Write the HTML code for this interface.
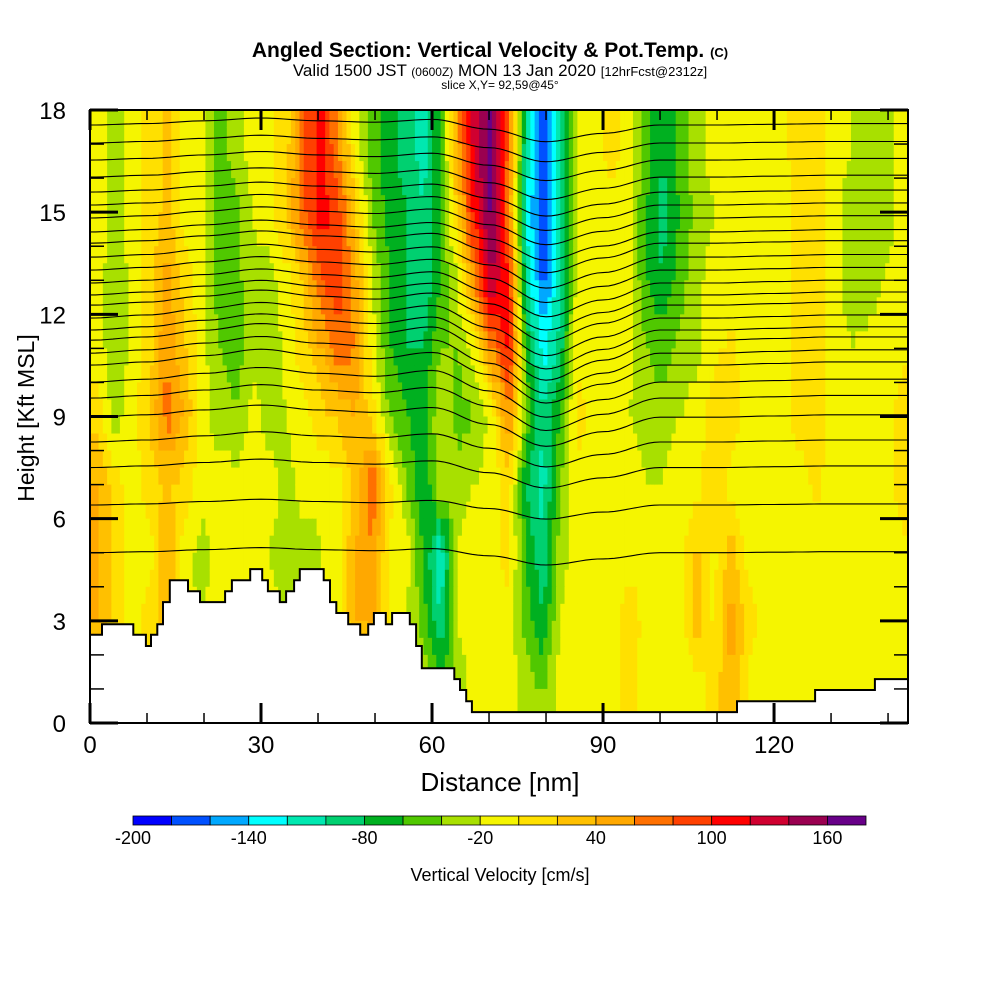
<!DOCTYPE html>
<html><head><meta charset="utf-8">
<style>
html,body{margin:0;padding:0;background:#fff;}
svg{display:block;font-family:"Liberation Sans",sans-serif;}
</style></head>
<body>
<svg id="chart" width="1000" height="1000" viewBox="0 0 1000 1000">
  <text x="490" y="57" text-anchor="middle" font-size="21" font-weight="bold">Angled Section: Vertical Velocity &amp; Pot.Temp. <tspan font-size="13">(C)</tspan></text>
  <text x="500" y="76" text-anchor="middle" font-size="17">Valid 1500 JST <tspan font-size="12">(0600Z)</tspan> MON 13 Jan 2020 <tspan font-size="13">[12hrFcst@2312z]</tspan></text>
  <text x="500" y="89" text-anchor="middle" font-size="12">slice X,Y= 92,59@45°</text>
  <defs><clipPath id="plotclip"><rect x="90" y="110" width="818" height="613"/></clipPath></defs>
  <g id="cells" clip-path="url(#plotclip)"></g>
  <g id="contours" clip-path="url(#plotclip)"></g>
  <g id="terrain"></g>
  <rect x="90" y="110" width="818" height="613" fill="none" stroke="#000" stroke-width="2"/>
  <g id="axes"></g>
  <text x="500" y="791" text-anchor="middle" font-size="26">Distance [nm]</text>
  <text transform="translate(34,418) rotate(-90)" text-anchor="middle" font-size="23">Height [Kft MSL]</text>
  <g id="colorbar"></g>
  <text x="500" y="881" text-anchor="middle" font-size="18">Vertical Velocity [cm/s]</text>
</svg>
<script>
const NS="http://www.w3.org/2000/svg";
// Data: vertical velocity (cm/s), columns every 3 nm, rows top (16-18 kft) to bottom (0-2 kft)
const colStepNm=3;
const rowStepKft=2;
const w0=[-10,-30,-10,10,25,-10,-10,-50,-30,-10,-5,10,80,110,60,-10,-50,-70,-90,-110,-60,50,130,170,70,-100,-170,-100,-10,-10,10,-10,-50,-80,-50,-30,-10,-10,-10,-10,-5,10,10,-10,-20,-30,-30,-10];
const w1=[-10,-30,-10,10,25,-10,-10,-50,-45,-20,-5,25,80,110,90,25,-40,-70,-80,-100,-60,25,110,170,60,-120,-180,-110,-10,-5,-10,-10,-60,-90,-60,-30,-20,-10,-10,-10,-10,10,15,-10,-30,-30,-30,-10];
const w2=[-10,-40,-10,10,50,10,-10,-50,-50,-25,-30,-10,25,80,100,50,-20,-60,-80,-100,-60,-20,60,140,100,-100,-170,-100,-10,-10,-10,-10,-60,-80,-50,-25,-10,-10,-5,-20,-10,10,10,-10,-30,-30,-20,-10];
const w3=[-10,-40,-10,10,60,25,-10,-40,-50,-30,-40,-10,10,40,70,60,-10,-60,-80,-80,-40,-40,-10,60,110,-60,-130,-90,-5,-10,-10,-10,-40,-50,-30,-25,-5,5,-10,-20,-10,10,10,-10,-20,-15,-10,-5];
const w4=[10,-30,-10,25,70,40,-10,-30,-40,-10,-30,-20,-10,10,25,40,10,-40,-60,-70,-20,-50,-40,-10,60,-40,-100,-60,10,-10,-10,-20,-30,-30,-20,-10,10,10,-10,-20,-10,10,10,-10,-10,-10,-10,10];
const w5=[40,10,-10,10,25,10,-10,-10,-10,-20,-10,-30,-5,-10,-10,25,80,10,-40,-80,-20,-30,-20,-10,10,-80,-110,-40,-5,-10,-10,-10,-20,-20,-10,-10,25,-10,-10,-10,-10,-10,5,-10,-10,-10,-10,10];
const w6=[40,10,-10,-10,40,-10,-30,-10,-5,-5,-20,-30,-40,-20,-10,40,60,-5,-10,-60,-120,-20,-10,-5,5,-60,-100,-30,-5,-10,-10,-5,-5,-10,-10,25,-5,30,-10,-10,-10,-5,-10,-10,-10,-10,-5,-5];
const w7=[40,10,-10,10,40,-10,-20,-10,-5,-5,-10,-30,-20,-10,-10,40,50,-5,-20,-50,-100,-20,-10,-5,-5,-50,-80,-20,-10,-10,-10,10,-5,-10,-10,30,-5,50,10,-10,-10,-10,-10,-10,-10,-5,-10,-10];
const w8=[-10,-10,-10,-10,-10,-10,-10,-10,-10,-10,-10,-10,-10,-10,-10,-10,-10,-10,-10,-10,-60,-30,-10,-10,-10,-30,-40,-10,-10,-10,-10,10,-10,-10,-10,-10,10,40,-5,-10,-10,-10,-10,-10,-10,-10,-10,-10];
const rows=[w0,w1,w2,w3,w4,w5,w6,w7,w8];
// Colour levels
const levels=[-200,-180,-160,-140,-120,-100,-80,-60,-40,-20,0,20,40,60,80,100,120,140,160,180];
const colors=["#0000ff","#0050ff","#00a8ff","#00ffff","#00e8b0","#00d070","#00b020","#50c800","#a8e000","#f5f500","#ffe000","#ffc000","#ffa800","#ff7000","#ff4000","#ff0000","#d00030","#9a0050","#680088"];
const cbLabels=[-200,-140,-80,-20,40,100,160];
// Potential temperature contours: base heights (kft) and displacement by distance
const thetaBase=[17.56,17.03,16.53,16.03,15.59,15.21,14.83,14.42,14.09,13.68,13.3,12.92,12.57,12.27,11.89,11.54,11.24,10.86,10.51,10.01,9.54,8.98,8.25,7.5,6.4,5.0];
const dispNm=[0,10,20,30,40,50,60,70,80,90,100,110,120,130,140,150];
const dispKft=[0,0.1,0.3,0.5,0.3,0.2,0.4,-0.3,-1.2,-0.6,0,0,0.05,0.1,0.1,0.1];
// Terrain outline (nm, kft)
const terrNm=[0,2.1,2.1,7.6,7.6,9.8,9.8,10.7,10.7,11.8,11.8,12.8,12.8,14,14,17.2,17.2,19.3,19.3,23.7,23.7,24.9,24.9,28.1,28.1,30.2,30.2,31.2,31.2,33.3,33.3,34.4,34.4,35.8,35.8,36.8,36.8,41,41,42.1,42.1,43.2,43.2,45.3,45.3,47.4,47.4,48.8,48.8,49.8,49.8,51.9,51.9,53,53,56.1,56.1,57.2,57.2,58.2,58.2,63.9,63.9,64.9,64.9,66,66,67,67,113.5,113.5,127.2,127.2,137.7,137.7,143.5];
const terrKft=[2.59,2.59,2.90,2.90,2.59,2.59,2.26,2.26,2.59,2.59,2.90,2.90,3.55,3.55,4.19,4.19,3.87,3.87,3.55,3.55,3.87,3.87,4.19,4.19,4.52,4.52,4.19,4.19,3.87,3.87,3.55,3.55,3.87,3.87,4.19,4.19,4.52,4.52,4.19,4.19,3.55,3.55,3.23,3.23,2.90,2.90,2.59,2.59,2.90,2.90,3.23,3.23,2.90,2.90,3.23,3.23,2.90,2.90,2.26,2.26,1.61,1.61,1.29,1.29,0.97,0.97,0.64,0.64,0.32,0.32,0.64,0.64,0.97,0.97,1.29,1.29];

const X0=90,XPX=818/143.5,Y0=723,YPX=613/18;
function sx(nm){return X0+nm*XPX;}
function sy(k){return Y0-k*YPX;}
function colorFor(v){for(let i=0;i<colors.length;i++){if(v<levels[i+1])return colors[i];}return colors[colors.length-1];}
function val(c,r){const R=Math.max(0,Math.min(rows.length-1,r)),C=Math.max(0,Math.min(rows[0].length-1,c));return rows[R][C];}
function interp(cf,rf){const c0=Math.floor(cf),r0=Math.floor(rf),tc=cf-c0,tr=rf-r0;
 return (1-tc)*(1-tr)*val(c0,r0)+tc*(1-tr)*val(c0+1,r0)+(1-tc)*tr*val(c0,r0+1)+tc*tr*val(c0+1,r0+1);}

// Velocity field: each grid cell subdivided for smooth display
const cellsG=document.getElementById('cells');
const SUB=4,nCols=rows[0].length,nRows=rows.length;
for(let r=0;r<nRows;r++){for(let c=0;c<nCols;c++){for(let a=0;a<SUB;a++){for(let b=0;b<SUB;b++){
  const cf=c+(b+0.5)/SUB-0.5,rf=r+(a+0.5)/SUB-0.5;
  const v=interp(cf,rf);
  const nmL=(c+b/SUB)*colStepNm,kT=18-(r+a/SUB)*rowStepKft;
  const rect=document.createElementNS(NS,'rect');
  rect.setAttribute('x',sx(nmL).toFixed(2));
  rect.setAttribute('y',sy(kT).toFixed(2));
  rect.setAttribute('width',(colStepNm/SUB*XPX+0.6).toFixed(2));
  rect.setAttribute('height',(rowStepKft/SUB*YPX+0.6).toFixed(2));
  rect.setAttribute('fill',colorFor(v));
  
  
  cellsG.appendChild(rect);
}}}}

// Contours
function disp(nm){for(let i=0;i<dispNm.length-1;i++){if(nm<=dispNm[i+1]){let t=(nm-dispNm[i])/(dispNm[i+1]-dispNm[i]);t=(1-Math.cos(Math.PI*t))/2;return dispKft[i]*(1-t)+dispKft[i+1]*t;}}return dispKft[dispKft.length-1];}
const contG=document.getElementById('contours');
thetaBase.forEach(function(h){
  let wgt=h>11?1-(h-11)*0.09:Math.max(0.3,(h-4)/7);
  const d0=[];
  let d='';
  for(let nm=0;nm<=144;nm+=1){const k=h+disp(nm)*wgt;d+=(nm===0?'M':'L')+sx(nm).toFixed(1)+','+sy(k).toFixed(1);}
  const p=document.createElementNS(NS,'path');
  p.setAttribute('d',d);p.setAttribute('fill','none');p.setAttribute('stroke','#000');p.setAttribute('stroke-width','1.1');
  
  
  contG.appendChild(p);
});

// Terrain
(function(){
  let d='M'+sx(0)+','+sy(0);
  for(let i=0;i<terrNm.length;i++){d+='L'+sx(terrNm[i]).toFixed(1)+','+sy(terrKft[i]).toFixed(1);}
  d+='L'+sx(143.5)+','+sy(0)+'Z';
  const p=document.createElementNS(NS,'path');
  p.setAttribute('d',d);p.setAttribute('fill','#fff');p.setAttribute('stroke','#000');p.setAttribute('stroke-width','2');
  
  
  document.getElementById('terrain').appendChild(p);
})();

// Axes
const axG=document.getElementById('axes');
function line(x1,y1,x2,y2,w,name){const l=document.createElementNS(NS,'line');l.setAttribute('x1',x1);l.setAttribute('y1',y1);l.setAttribute('x2',x2);l.setAttribute('y2',y2);l.setAttribute('stroke','#000');l.setAttribute('stroke-width',w);
 
 
 axG.appendChild(l);}
function label(x,y,t,anchor,size,name){const e=document.createElementNS(NS,'text');e.setAttribute('x',x);e.setAttribute('y',y);e.setAttribute('text-anchor',anchor);e.setAttribute('font-size',size);e.textContent=t;
 
 
 return e;}
for(let k=0;k<=18;k++){const y=sy(k);const major=k%3===0;const L=major?28:14;
 line(90,y,90+L,y,major?3:1.5,'y-tick');line(908-L,y,908,y,major?3:1.5,'y-tick');
 if(major)axG.appendChild(label(66,y+9,String(k),'end',24,'y-tick-label'));}
for(let nm=0;nm<=140;nm+=10){const x=sx(nm);const major=nm%30===0;const L=major?20:10;
 line(x,723,x,723-L,major?3:1.5,'x-tick');line(x,110,x,110+L,major?3:1.5,'x-tick');
 if(major)axG.appendChild(label(x,753,String(nm),'middle',24,'x-tick-label'));}

// Colorbar
const cbG=document.getElementById('colorbar');
const cbX0=133,cbW=733,segW=cbW/colors.length;
colors.forEach(function(c,i){const r=document.createElementNS(NS,'rect');r.setAttribute('x',cbX0+i*segW);r.setAttribute('y',816);r.setAttribute('width',segW);r.setAttribute('height',9);r.setAttribute('fill',c);r.setAttribute('stroke','#000');r.setAttribute('stroke-width','0.8');
 
 
 cbG.appendChild(r);});
cbLabels.forEach(function(v){const i=levels.indexOf(v);cbG.appendChild(label(cbX0+i*segW,844,String(v),'middle',18,'colorbar-label'));});
</script>
</body></html>
